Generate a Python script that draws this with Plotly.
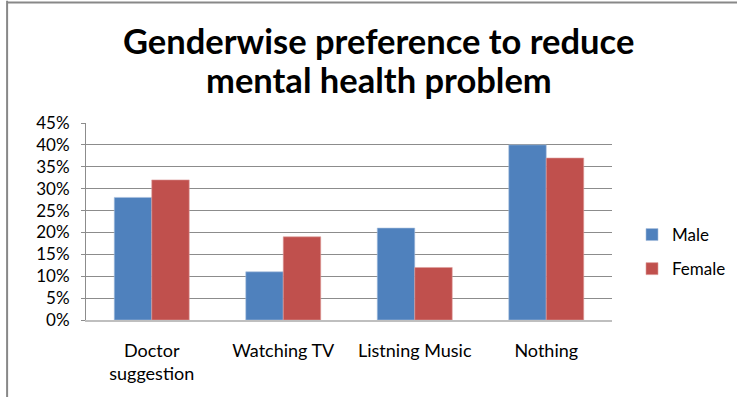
import plotly.graph_objects as go

categories = ["Doctor<br>suggestion", "Watching TV", "Listning Music", "Nothing"]
male = [28, 11, 21, 40]
female = [32, 19, 12, 37]
tick_vals = [0, 5, 10, 15, 20, 25, 30, 35, 40, 45]
tick_text = [f"{v}%" for v in tick_vals]
title_lines = ["Genderwise preference to reduce", "mental health problem"]

FONT = "Lato"
fig = go.Figure()
fig.add_trace(go.Bar(x=categories, y=male, name="Male", marker_color="#4F81BD",
                     marker_line=dict(color="#A7C0DE", width=0.6), legendgroup="m"))
fig.add_trace(go.Bar(x=categories, y=female, name="Female", marker_color="#C0504D",
                     marker_line=dict(color="#DE9E9C", width=0.6), legendgroup="f"))

fig.update_layout(
    width=737, height=397,
    margin=dict(l=86, r=125, t=123, b=77, autoexpand=False),
    paper_bgcolor="white", plot_bgcolor="white",
    barmode="group", bargap=0.43, bargroupgap=0,
    font=dict(family=FONT, color="#000000"),
    legend=dict(xref="container", yref="container", x=632 / 737, y=1 - 252 / 397,
                xanchor="left", yanchor="middle", itemwidth=30,
                font=dict(size=17, family=FONT, color="#000000"),
                tracegroupgap=9, bgcolor="rgba(0,0,0,0)"),
    showlegend=True,
)

# two-line bold title, each line placed separately for tight spacing
for text, ypos in zip(title_lines, [1.419, 1.223]):
    fig.add_annotation(text=f"<b>{text}</b>", xref="paper", yref="paper",
                       x=0.557, y=ypos, xanchor="center", yanchor="middle",
                       showarrow=False, font=dict(size=34.5, family=FONT, color="#000000"))

fig.update_yaxes(range=[0, 45], tickvals=tick_vals, ticktext=tick_text,
                 showgrid=True, gridcolor="#8C8C8C", gridwidth=1,
                 showline=True, linecolor="#8C8C8C", linewidth=1,
                 ticks="outside", ticklen=4, tickcolor="#8C8C8C",
                 tickfont=dict(size=17, family=FONT, color="#000000"),
                 ticklabelstandoff=8, zeroline=False)
fig.update_xaxes(showline=True, linecolor="#BFBFBF", linewidth=2,
                 tickfont=dict(size=18, family=FONT, color="#000000"),
                 ticklabelstandoff=13, ticks="")

# outer chart frame
fig.add_shape(type="line", xref="paper", yref="paper", x0=-0.15, x1=-0.15, y0=1.62, y1=-0.5,
              line=dict(color="#888888", width=2))
fig.add_shape(type="line", xref="paper", yref="paper", x0=-0.15, x1=1.3, y0=1.612, y1=1.612,
              line=dict(color="#888888", width=2))

fig.write_html("out.html")
